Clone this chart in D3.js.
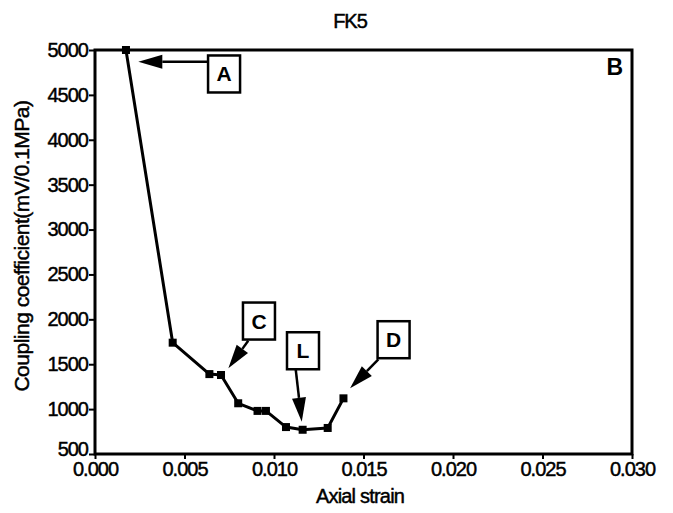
<!DOCTYPE html>
<html>
<head>
<meta charset="utf-8">
<script src="https://cdn.jsdelivr.net/npm/d3@7"></script>
<style>
  body { margin: 0; background: #fff; }
  svg { display: block; }
  text { font-family: "Liberation Sans", Arial, sans-serif; fill: #000; }
  .heavy { stroke: #000; stroke-width: 0.45px; }
</style>
</head>
<body>
<svg id="chart" width="673" height="513"></svg>
<script>
// values
const strain = [0.00173, 0.00434, 0.00639, 0.00704, 0.0080, 0.00908, 0.00955, 0.01067, 0.0116, 0.0130, 0.01388];
const coupling = [5000, 1740, 1390, 1380, 1065, 980, 980, 800, 770, 790, 1120];
const xTicks = [0, 0.005, 0.010, 0.015, 0.020, 0.025, 0.030];
const yTicks = [500, 1000, 1500, 2000, 2500, 3000, 3500, 4000, 4500, 5000];

const data = strain.map((s, i) => ({s: s, v: coupling[i]}));

// boxed labels with arrows, placed in data units
const notes = [
    {label: "A", bx: 0.00721, by: 4733, fx: 0.00633, fy: 4870, tx: 0.00242, ty: 4870},
    {label: "C", bx: 0.00916, by: 1981, fx: 0.00856, fy: 1762, tx: 0.00745, ty: 1454},
    {label: "L", bx: 0.01162, by: 1650, fx: 0.01121, fy: 1447, tx: 0.01155, ty: 860},
    {label: "D", bx: 0.01668, by: 1773, fx: 0.01583, fy: 1555, tx: 0.01425, ty: 1232}
];

const margin = {top: 50, right: 41, bottom: 59, left: 95};
const width = 673, height = 513;

const svg = d3.select("#chart");

let x = d3.scaleLinear()
    .domain([0, 0.03])
    .range([margin.left, width - margin.right]);

let y = d3.scaleLinear()
    .domain([500, 5000])
    .range([height - margin.bottom, margin.top]);

// frame
svg.append("rect")
    .attr("x", x(0))
    .attr("y", y(5000))
    .attr("width", x(0.03) - x(0))
    .attr("height", y(500) - y(5000))
    .attr("fill", "none")
    .attr("stroke", "#000")
    .attr("stroke-width", 3);

// Axes
let xAxis = g => g
    .attr("transform", `translate(0,${y(500)})`)
    .call(d3.axisBottom(x).tickValues(xTicks).tickFormat(d3.format(".3f")).tickSize(5).tickPadding(3))
    .call(g => g.select(".domain").remove());

let yAxis = g => g
    .attr("transform", `translate(${x(0)},0)`)
    .call(d3.axisLeft(y).tickValues(yTicks).tickFormat(d3.format("d")).tickSize(6).tickPadding(2))
    .call(g => g.select(".domain").remove());

svg.append("g").attr("class", "xaxis").call(xAxis);
svg.append("g").attr("class", "yaxis").call(yAxis);

svg.selectAll(".tick line").attr("stroke", "#000").attr("stroke-width", 2);
svg.selectAll(".tick text")
    .attr("class", "heavy")
    .attr("font-size", 20)
    .attr("letter-spacing", "-1")
    .style("font-family", "'Liberation Sans', Arial, sans-serif");
svg.selectAll(".yaxis .tick text").attr("dx", "1");
// lift the lowest y label a little, as in the original scan
svg.selectAll(".yaxis .tick").filter(d => d === 500).select("text").attr("dy", "0.05em");

// title and axis labels
svg.append("text")
    .attr("class", "heavy")
    .attr("x", 350)
    .attr("y", 28)
    .attr("text-anchor", "middle")
    .attr("font-size", 20)
    .attr("letter-spacing", "-1")
    .text("FK5");

svg.append("text")
    .attr("class", "heavy")
    .attr("x", 360)
    .attr("y", 503)
    .attr("text-anchor", "middle")
    .attr("font-size", 20)
    .attr("letter-spacing", "-0.8")
    .text("Axial strain");

svg.append("text")
    .attr("class", "heavy")
    .attr("transform", `translate(29,${(y(500) + y(5000)) / 2 - 6}) rotate(-90)`)
    .attr("text-anchor", "middle")
    .attr("font-size", 21)
    .attr("letter-spacing", "-0.5")
    .text("Coupling coefficient(mV/0.1MPa)");

// data line and markers
let line = d3.line()
    .x(d => x(d.s))
    .y(d => y(d.v));

svg.append("path")
    .datum(data)
    .attr("fill", "none")
    .attr("stroke", "#000")
    .attr("stroke-width", 3)
    .attr("stroke-linejoin", "round")
    .attr("d", line);

svg.selectAll(".pt")
    .data(data)
    .join("rect")
    .attr("class", "pt")
    .attr("x", d => x(d.s) - 4)
    .attr("y", d => y(d.v) - 4)
    .attr("width", 8)
    .attr("height", 8)
    .attr("fill", "#000");

// annotation arrows
const headLen = 24, headHalf = 7;
const notesG = svg.append("g");

notes.forEach(n => {
    const x0 = x(n.fx), y0 = y(n.fy), x1 = x(n.tx), y1 = y(n.ty);
    const ang = Math.atan2(y1 - y0, x1 - x0);
    const bxp = x1 - headLen * Math.cos(ang), byp = y1 - headLen * Math.sin(ang);
    notesG.append("line")
        .attr("x1", x0).attr("y1", y0)
        .attr("x2", bxp).attr("y2", byp)
        .attr("stroke", "#000")
        .attr("stroke-width", 2.5);
    const px = -Math.sin(ang) * headHalf, py = Math.cos(ang) * headHalf;
    notesG.append("path")
        .attr("d", `M${x1},${y1}L${bxp + px},${byp + py}L${bxp - px},${byp - py}Z`)
        .attr("fill", "#000");

    const cx = x(n.bx), cy = y(n.by);
    notesG.append("rect")
        .attr("x", cx - 16)
        .attr("y", cy - 18.5)
        .attr("width", 32)
        .attr("height", 37)
        .attr("fill", "#fff")
        .attr("stroke", "#000")
        .attr("stroke-width", 2.5);
    notesG.append("text")
        .attr("x", cx)
        .attr("y", cy + 7.5)
        .attr("text-anchor", "middle")
        .attr("font-size", 21)
        .attr("font-weight", "bold")
        .text(n.label);
});

// panel letter
svg.append("text")
    .attr("x", x(0.03) - 9)
    .attr("y", y(5000) + 25)
    .attr("text-anchor", "end")
    .attr("font-size", 23)
    .attr("font-weight", "bold")
    .text("B");
</script>
</body>
</html>
